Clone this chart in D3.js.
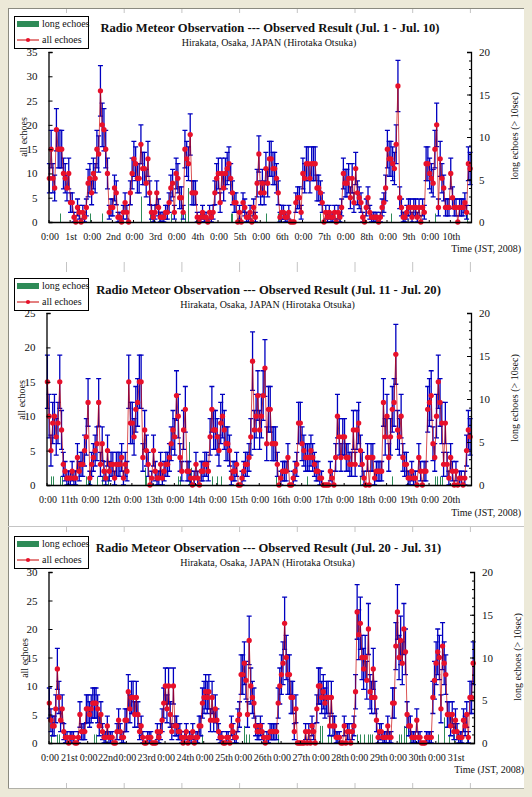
<!DOCTYPE html>
<html><head><meta charset="utf-8">
<script src="https://cdn.jsdelivr.net/npm/d3@7"></script>
<style>
html,body{margin:0;padding:0;background:#ece9d8;overflow:hidden}
svg{display:block}
text{font-family:"Liberation Serif",serif;fill:#111}
</style></head><body><svg id="c" width="532" height="797"></svg>
<script>
const allEchoes1 = [
 9,15,9,7,19,15,15,15,10,9,7,10,4,4,1,0,3,2,0,2,1,3,8,9,
 6,10,9,15,14,27,20,19,15,10,2,3,3,7,6,1,1,0,2,4,2,0,6,10,
 13,12,9,9,16,11,11,8,13,6,2,1,2,6,3,1,1,1,2,2,4,7,8,2,
 10,9,5,5,2,15,13,12,18,6,6,6,1,0,1,2,1,1,0,2,1,2,6,9,
 10,4,10,7,10,11,12,9,6,4,4,0,2,0,4,3,1,1,2,0,3,1,8,14,
 6,8,6,11,8,13,13,11,11,9,6,1,2,2,1,1,2,0,0,0,4,5,5,2,
 10,9,12,12,9,12,12,12,7,7,6,4,0,2,1,2,1,1,2,0,2,1,3,10,
 8,8,9,5,9,4,11,6,5,4,1,0,3,5,2,1,1,1,1,0,1,3,4,7,
 15,13,13,12,11,16,28,5,3,1,1,2,3,3,1,3,3,1,3,0,3,2,12,12,
 10,9,8,15,20,3,13,9,7,3,3,3,10,5,3,3,0,3,3,3,4,2,12,11];
const longHours1 = [6,23,30,52,57,62,69,75,77,79,103,104,123,130,154,165,194,219,237];
const longCounts1 = [1,1,1,3,1,1,1,1,1,4,1,1,1,1,1,1,1,1,1];
const dayLabels1 = ["1st","2nd","3rd","4th","5th","6th","7th","8th","9th","10th"];

const allEchoes2 = [
 15,10,5,9,10,7,9,15,8,3,2,1,1,1,2,1,1,4,2,3,3,5,7,12,
 1,3,4,5,6,12,3,6,2,1,5,2,3,3,1,3,3,3,4,1,3,2,15,9,
 9,7,11,12,15,15,4,8,5,3,0,1,5,2,1,1,3,1,2,3,3,4,6,8,
 7,13,10,4,2,8,11,2,2,1,0,1,3,1,0,2,2,3,3,2,7,11,8,8,
 7,5,9,10,8,6,6,5,1,2,2,3,0,0,1,2,3,3,4,7,18,8,10,13,
 8,10,13,17,6,11,11,6,6,6,3,0,1,2,2,2,4,0,0,1,2,3,9,9,
 6,5,4,4,4,5,4,3,2,2,1,1,0,0,0,0,2,1,0,4,10,7,4,7,
 7,4,4,3,3,8,3,8,9,5,3,1,0,4,0,4,4,1,2,2,2,2,12,7,
 10,4,7,11,12,19,8,7,10,4,3,3,1,1,2,1,1,0,4,2,0,2,2,11,
 12,13,6,4,10,15,12,9,3,9,3,1,4,2,0,2,0,1,1,0,1,5,8,7];
const longHours2 = [2,3,7,8,22,23,24,28,31,34,55,56,74,75,80,81,93,96,98,129,147,177,195,219,220,222,223];
const longCounts2 = [1,1,1,1,1,1,1,1,1,1,2,1,1,1,5,2,1,1,1,1,1,1,1,1,1,1,1];
const dayLabels2 = ["11th","12th","13th","14th","15th","16th","17th","18th","19th","20th"];

const allEchoes3 = [
 7,4,3,3,6,13,8,4,6,2,1,1,0,1,1,1,0,0,1,5,2,2,2,6,
 6,5,6,7,7,7,6,3,5,2,1,1,3,1,1,1,0,0,2,4,2,1,1,4,
 4,9,6,8,8,5,8,5,2,3,1,0,0,1,1,1,0,0,0,2,1,2,4,7,
 10,6,10,5,2,10,3,3,2,2,1,0,1,2,0,1,1,2,0,1,1,3,3,7,
 8,9,8,9,4,8,4,6,4,2,1,1,0,0,1,1,0,3,2,1,1,4,5,12,
 12,14,11,5,18,10,8,7,3,2,2,3,2,1,0,1,1,2,2,2,2,2,7,10,
 12,14,21,15,12,12,8,8,2,6,0,0,0,0,0,2,0,2,0,3,2,0,6,10,
 10,8,9,7,8,8,3,8,3,3,1,1,1,0,0,3,0,2,2,0,2,3,9,23,
 19,21,15,13,15,11,20,9,8,13,8,4,1,2,2,1,1,1,3,1,1,7,7,17,
 23,15,18,14,20,16,5,3,3,1,1,1,4,1,1,0,0,0,1,1,1,1,8,11,
 14,16,15,6,17,14,12,5,5,3,5,2,4,2,1,1,1,4,3,5,1,8,8,14];
const longHours3 = [1,5,6,28,29,95,121,122,124,142,168,169,173,175,191,193,195,198,199,200,217,218,220,221,224,241,245,248,251,259];
const longCounts3 = [1,1,1,1,1,1,2,1,1,1,2,2,1,1,1,1,1,1,1,1,1,1,2,2,1,1,3,1,1,1];
const dayLabels3 = ["21st","22nd","23rd","24th","25th","26th","27th","28th","29th","30th","31st"];

const titles = ["Radio Meteor Observation --- Observed Result (Jul. 1 - Jul. 10)",
 "Radio Meteor Observation --- Observed Result (Jul. 11 - Jul. 20)",
 "Radio Meteor Observation --- Observed Result (Jul. 20 - Jul. 31)"];
const subtitle = "Hirakata, Osaka, JAPAN (Hirotaka Otsuka)";
const leftMaxes = [35,25,30];

const svg = d3.select("#c");
// frame
svg.append("rect").attr("x",8).attr("y",8).attr("width",516).attr("height",781).attr("fill","#fff");
svg.append("line").attr("x1",8.5).attr("x2",8.5).attr("y1",8).attr("y2",789).attr("stroke","#8a8a80");
svg.append("line").attr("x1",8).attr("x2",524).attr("y1",8.5).attr("y2",8.5).attr("stroke","#8a8a80");
svg.append("line").attr("x1",8).attr("x2",524).attr("y1",526.5).attr("y2",526.5).attr("stroke","#c4c4c4");
svg.append("line").attr("x1",8).attr("x2",524).attr("y1",788.5).attr("y2",788.5).attr("stroke","#b0b0a8");
const notch = d3.range(8).map(k=>66.5+57.7*k);
[[9,13],[262,272],[526,532],[783,788]].forEach(([a,b])=>{
  svg.append("g").selectAll("line").data(notch).join("line")
    .attr("x1",d=>d).attr("x2",d=>d).attr("y1",a).attr("y2",b).attr("stroke","#c4c4c4");
});

const layouts = [
 {l:48.5,r:471,t:52,b:222,lx:14,ly:16,tx:270,ty:32,sy:46,xl:11,timeY:252,timeR:521,ylx:23,yly:137,yrx:514,yry:136,tickR:8},
 {l:46.5,r:471,t:313,b:485,lx:14,ly:278,tx:268.5,ty:294,sy:308,xl:11,timeY:516,timeR:521,ylx:21,yly:400,yrx:514,yry:398,tickR:8},
 {l:48.5,r:474,t:572,b:743,lx:14,ly:536,tx:268.5,ty:552,sy:566,xl:11,timeY:773,timeR:524,ylx:24,yly:658,yrx:517,yry:657,tickR:8}
];
const datasets = [
 {all:allEchoes1,h:longHours1,c:longCounts1,days:dayLabels1},
 {all:allEchoes2,h:longHours2,c:longCounts2,days:dayLabels2},
 {all:allEchoes3,h:longHours3,c:longCounts3,days:dayLabels3}
];

datasets.forEach((ds,k)=>{
  const L = layouts[k], N = ds.all.length;
  const g = svg.append("g");
  const x = d3.scaleLinear().domain([0,N]).range([L.l,L.r]);
  const y = d3.scaleLinear().domain([0,leftMaxes[k]]).range([L.b,L.t]);
  const y2 = d3.scaleLinear().domain([0,20]).range([L.b,L.t]);
  const pts = ds.all.map((v,i)=>({i,v}));

  // long echoes
  g.append("g").selectAll("rect").data(ds.h.map((h,i)=>({h,c:ds.c[i]}))).join("rect")
    .attr("x",d=>Math.round(x(d.h+0.5)))
    .attr("width",1)
    .attr("y",d=>y2(d.c))
    .attr("height",d=>L.b-y2(d.c))
    .attr("fill","#2e8b57");

  // error bars
  const eb = g.append("g").attr("stroke","#0000c0").attr("stroke-width",1.3).attr("fill","none");
  pts.filter(d=>d.v>0).forEach(d=>{
    const px=x(d.i+0.5), hi=y(d.v+Math.sqrt(d.v)), lo=y(Math.max(0,d.v-Math.sqrt(d.v)));
    eb.append("path").attr("d",`M${px},${lo}V${hi}M${px-2.5},${hi}H${px+2.5}M${px-2.5},${lo}H${px+2.5}`);
  });

  // all echoes line, semi-transparent over the bars
  g.append("path").datum(pts)
    .attr("fill","none").attr("stroke","#c80000").attr("stroke-width",0.9).attr("stroke-opacity",0.75)
    .attr("d",d3.line().x(d=>x(d.i+0.5)).y(d=>y(d.v)));

  // all echoes markers
  g.append("g").selectAll("path").data(pts).join("path")
    .attr("d",d3.symbol().type(d3.symbolCircle).size(22))
    .attr("transform",d=>`translate(${x(d.i+0.5)},${y(d.v)})`)
    .attr("fill","#e8102a");

  // axes
  const styleAxis = a => { a.selectAll("path,line").attr("stroke","#000"); a.select(".domain").attr("stroke-width",1.3);
     a.selectAll("text").attr("fill","#111").style("font-family",'"Liberation Serif",serif'); };
  const ax = g.append("g").attr("transform",`translate(0,${L.b})`)
    .call(d3.axisBottom(x).tickValues(d3.range(0,N,12)).tickSizeInner(-2).tickSizeOuter(0).tickPadding(L.xl)
      .tickFormat(h=> h%24===0 ? "0:00" : ds.days[(h-12)/24]));
  ax.call(styleAxis); ax.selectAll("text").attr("font-size",10).attr("dx",1);

  const ayl = g.append("g").attr("transform",`translate(${L.l},0)`)
    .call(d3.axisLeft(y).ticks(leftMaxes[k]/5).tickSizeInner(-4).tickSizeOuter(-4).tickPadding(11));
  ayl.call(styleAxis); ayl.selectAll("text").attr("font-size",11);

  const ayr = g.append("g").attr("transform",`translate(${L.r},0)`)
    .call(d3.axisRight(y2).tickValues(d3.range(0,21,5)).tickSizeInner(-4).tickSizeOuter(-4).tickPadding(L.tickR));
  ayr.call(styleAxis); ayr.selectAll("text").attr("font-size",11);
  g.append("g").attr("transform",`translate(${L.r},0)`)
    .call(d3.axisRight(y2).tickValues(d3.range(0,21)).tickSizeInner(-2).tickSizeOuter(0).tickFormat(""))
    .call(a=>{a.select(".domain").remove(); a.selectAll("line").attr("stroke","#000");});

  // titles
  g.append("text").attr("x",L.tx).attr("y",L.ty).attr("text-anchor","middle")
    .attr("font-size",12.6).attr("font-weight","bold").attr("fill","#000").text(titles[k]);
  g.append("text").attr("x",L.tx-1).attr("y",L.sy).attr("text-anchor","middle")
    .attr("font-size",10).text(subtitle);
  g.append("text").attr("x",L.timeR).attr("y",L.timeY).attr("text-anchor","end")
    .attr("font-size",10).text("Time (JST, 2008)");
  g.append("text").attr("transform",`translate(${L.ylx},${L.yly}) rotate(-90)`).attr("text-anchor","middle")
    .attr("dy","0.35em").attr("font-size",10).text("all echoes");
  g.append("text").attr("transform",`translate(${L.yrx},${L.yry}) rotate(-90)`).attr("text-anchor","middle")
    .attr("dy","0.35em").attr("font-size",10).text("long echoes (> 10sec)");

  // legend
  const lg = g.append("g").attr("transform",`translate(${L.lx},${L.ly})`);
  lg.append("rect").attr("x",0.5).attr("y",0.5).attr("width",74).attr("height",32)
    .attr("fill","#fff").attr("stroke","#000").attr("stroke-width",1);
  lg.append("rect").attr("x",3).attr("y",5).attr("width",22).attr("height",6).attr("fill","#2e8b57");
  lg.append("line").attr("x1",3).attr("x2",25).attr("y1",24).attr("y2",24).attr("stroke","#c80000");
  lg.append("path").attr("d",d3.symbol().type(d3.symbolCircle).size(14)).attr("transform","translate(14,24)").attr("fill","#e8102a");
  lg.append("text").attr("x",28).attr("y",11).attr("font-size",10).text("long echoes");
  lg.append("text").attr("x",28).attr("y",27).attr("font-size",10).text("all echoes");
});
</script></body></html>
